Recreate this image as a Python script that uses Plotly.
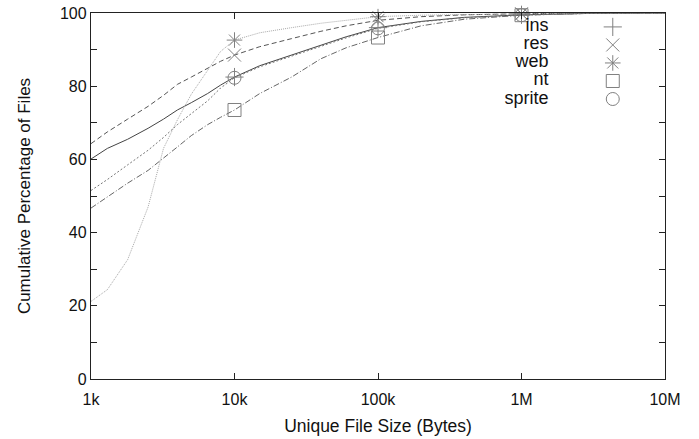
import plotly.graph_objects as go

# ---------------- data ----------------
sizes = [1000, 1300, 1800, 2500, 3200, 4000, 5000, 6500, 8000, 10000,
         15000, 25000, 40000, 60000, 100000, 200000, 400000, 1000000,
         3000000, 10000000]

ins = [60.1, 63.0, 65.5, 68.5, 71.0, 73.5, 75.5, 78.0, 80.3, 82.5,
       85.6, 88.5, 91.3, 93.5, 96.0, 97.7, 98.8, 99.5, 99.9, 100.0]
res = [64.3, 67.5, 71.0, 74.5, 77.5, 80.5, 82.5, 85.0, 86.8, 88.5,
       90.8, 93.0, 95.0, 96.5, 98.0, 99.0, 99.5, 99.8, 100.0, 100.0]
web = [21.2, 24.4, 32.6, 47.0, 63.0, 70.8, 77.8, 84.5, 89.5, 92.6,
       94.6, 96.0, 97.2, 98.0, 99.0, 99.4, 99.6, 99.8, 100.0, 100.0]
nt = [46.7, 49.8, 53.5, 57.0, 60.5, 63.4, 66.5, 69.5, 71.5, 73.5,
      78.0, 82.5, 87.5, 90.5, 93.3, 96.5, 98.3, 99.4, 99.9, 100.0]
sprite = [51.5, 54.5, 58.5, 62.5, 66.0, 69.5, 72.5, 76.0, 79.5, 82.3,
          85.3, 88.2, 91.0, 93.2, 95.8, 97.6, 98.7, 99.4, 99.9, 100.0]

marker_sizes = [10000, 100000, 1000000]

series_names = ["ins", "res", "web", "nt", "sprite"]
series_values = [ins, res, web, nt, sprite]

x_tickvals = [1e3, 1e4, 1e5, 1e6, 1e7]
x_ticktext = ["1k", "10k", "100k", "1M", "10M"]

# ---------------- styles ----------------
line_styles = {
    "ins": dict(color="#444444", dash="solid", width=1),
    "res": dict(color="#555555", dash="5px,3px", width=1),
    "web": dict(color="#a8a8a8", dash="1px,1px", width=1),
    "nt": dict(color="#666666", dash="6px,2px,1px,2px", width=1),
    "sprite": dict(color="#777777", dash="2px,2px", width=1),
}
symbols = {
    "ins": "cross-thin-open",
    "res": "x-thin-open",
    "web": "asterisk-open",
    "nt": "square-open",
    "sprite": "circle-open",
}
mk_color = "#808080"
font_family = "Liberation Sans, Arial, Helvetica, sans-serif"

fig = go.Figure()

for name, vals in zip(series_names, series_values):
    fig.add_trace(go.Scatter(
        x=sizes, y=vals, mode="lines", line=line_styles[name],
        showlegend=False, hoverinfo="skip", cliponaxis=False))
    mx = [s for s in sizes if s in marker_sizes]
    my = [v for s, v in zip(sizes, vals) if s in marker_sizes]
    fig.add_trace(go.Scatter(
        x=mx, y=my, mode="markers",
        marker=dict(symbol=symbols[name], size=13, color=mk_color,
                    line=dict(color=mk_color, width=1)),
        showlegend=False, hoverinfo="skip", cliponaxis=False))

# custom gnuplot-style key: label on the left, symbol on the right
idx = list(range(len(series_names)))
fig.add_trace(go.Scatter(
    x=[0] * len(idx), y=idx, mode="text", text=series_names,
    textposition="middle left",
    textfont=dict(family=font_family, size=18, color="#111111"),
    xaxis="x2", yaxis="y2", showlegend=False, hoverinfo="skip",
    cliponaxis=False))
fig.add_trace(go.Scatter(
    x=[1] * len(idx), y=idx, mode="markers",
    marker=dict(symbol=[symbols[n] for n in series_names], size=13,
                color=mk_color, line=dict(color=mk_color, width=1)),
    xaxis="x2", yaxis="y2", showlegend=False, hoverinfo="skip",
    cliponaxis=False))

axis_common = dict(
    showline=True, linecolor="#222222", linewidth=1.3, mirror="ticks",
    ticks="inside", ticklen=6, tickcolor="#222222", tickwidth=1,
    showgrid=False, zeroline=False, automargin=False,
    tickfont=dict(family=font_family, size=16, color="#111111"),
)

fig.update_layout(
    width=699, height=439,
    margin=dict(l=91, r=34, t=13, b=60),
    paper_bgcolor="white", plot_bgcolor="rgba(0,0,0,0)",
    xaxis=dict(
        type="log", range=[3, 7], tickvals=x_tickvals, ticktext=x_ticktext,
        ticklabelstandoff=6,
        title=dict(text="Unique File Size (Bytes)", standoff=12,
                   font=dict(family=font_family, size=17.5, color="#111111")),
        **axis_common),
    yaxis=dict(
        range=[0, 100], dtick=20,
        minor=dict(dtick=10, ticks="inside", ticklen=6, tickcolor="#222222"),
        title=dict(text="Cumulative Percentage of Files", standoff=24,
                   font=dict(family=font_family, size=17, color="#111111")),
        **axis_common),
    xaxis2=dict(domain=[0.797, 0.909], range=[0, 1], visible=False,
                anchor="y2", fixedrange=True),
    yaxis2=dict(domain=[0.765, 0.962], range=[len(idx) - 1, 0],
                visible=False, anchor="x2", fixedrange=True),
    showlegend=False,
)

fig.write_html("out.html")
